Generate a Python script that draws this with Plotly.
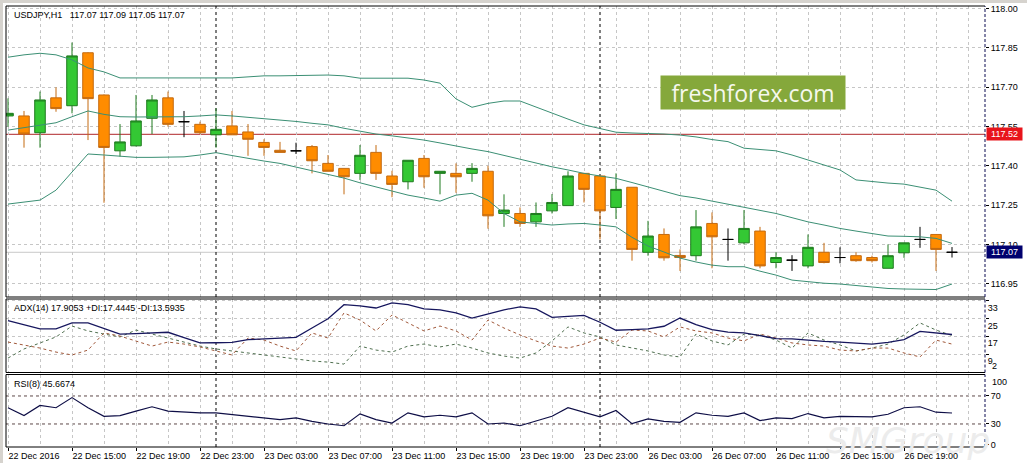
import pandas as pd
import plotly.graph_objects as go
from plotly.subplots import make_subplots

# hourly bars: 22 Dec 11:00 .. 23 Dec 23:00, weekend skipped, 26 Dec 00:00 .. 22:00
times = list(pd.date_range("2016-12-22 11:00", "2016-12-23 23:00", freq="h")) + \
    list(pd.date_range("2016-12-26 00:00", "2016-12-26 22:00", freq="h"))

opens = [117.590, 117.590, 117.526, 117.659, 117.629, 117.831, 117.670, 117.457, 117.476, 117.581,
         117.659, 117.568, 117.558, 117.518, 117.552, 117.529, 117.489, 117.459, 117.457, 117.473,
         117.409, 117.390, 117.371, 117.451, 117.361, 117.339, 117.428, 117.371, 117.371, 117.371,
         117.379, 117.218, 117.218, 117.186, 117.228, 117.248, 117.371, 117.361, 117.241, 117.318,
         117.070, 117.138, 117.058, 117.057, 117.180, 117.119, 117.106, 117.151, 117.031, 117.040,
         117.018, 117.070, 117.050, 117.057, 117.050, 117.009, 117.068, 117.119, 117.138, 117.07]
highs = [117.657, 117.609, 117.683, 117.699, 117.870, 117.833, 117.672, 117.559, 117.670, 117.670,
         117.683, 117.609, 117.568, 117.619, 117.609, 117.559, 117.501, 117.491, 117.488, 117.479,
         117.441, 117.390, 117.479, 117.479, 117.381, 117.421, 117.441, 117.379, 117.409, 117.410,
         117.400, 117.291, 117.241, 117.260, 117.292, 117.379, 117.371, 117.361, 117.371, 117.318,
         117.190, 117.161, 117.081, 117.231, 117.222, 117.161, 117.231, 117.167, 117.070, 117.059,
         117.138, 117.106, 117.089, 117.070, 117.057, 117.100, 117.106, 117.167, 117.138, 117.09]
lows = [117.549, 117.469, 117.469, 117.606, 117.600, 117.498, 117.259, 117.435, 117.474, 117.521,
        117.549, 117.509, 117.521, 117.469, 117.518, 117.438, 117.438, 117.451, 117.445, 117.371,
        117.379, 117.291, 117.346, 117.346, 117.280, 117.310, 117.316, 117.291, 117.297, 117.339,
        117.160, 117.167, 117.167, 117.167, 117.218, 117.248, 117.260, 117.119, 117.197, 117.038,
        117.057, 117.038, 116.999, 117.038, 117.009, 117.038, 117.100, 117.009, 117.009, 116.999,
        117.009, 117.028, 117.028, 117.034, 117.031, 117.009, 117.049, 117.087, 116.999, 117.05]
closes = [117.600, 117.521, 117.651, 117.618, 117.819, 117.656, 117.470, 117.491, 117.571, 117.651,
          117.558, 117.568, 117.526, 117.539, 117.518, 117.501, 117.470, 117.451, 117.457, 117.419,
          117.379, 117.358, 117.440, 117.371, 117.329, 117.421, 117.358, 117.379, 117.358, 117.390,
          117.209, 117.231, 117.180, 117.218, 117.260, 117.361, 117.310, 117.228, 117.310, 117.081,
          117.132, 117.049, 117.050, 117.167, 117.129, 117.119, 117.161, 117.018, 117.050, 117.040,
          117.089, 117.031, 117.050, 117.038, 117.038, 117.057, 117.106, 117.119, 117.081, 117.07]

bb_upper = [117.814, 117.823, 117.829, 117.823, 117.804, 117.773, 117.758, 117.735, 117.735, 117.735,
            117.735, 117.735, 117.735, 117.735, 117.735, 117.739, 117.743, 117.743, 117.744, 117.746,
            117.746, 117.743, 117.734, 117.734, 117.734, 117.734, 117.727, 117.715, 117.655, 117.623,
            117.638, 117.647, 117.647, 117.623, 117.601, 117.578, 117.556, 117.543, 117.528, 117.525,
            117.524, 117.521, 117.517, 117.510, 117.500, 117.492, 117.467, 117.462, 117.457, 117.441,
            117.422, 117.403, 117.384, 117.346, 117.339, 117.334, 117.330, 117.319, 117.307, 117.265]
bb_mid = [117.536, 117.546, 117.556, 117.564, 117.587, 117.609, 117.596, 117.587, 117.586, 117.586,
          117.586, 117.587, 117.590, 117.594, 117.590, 117.585, 117.580, 117.575, 117.569, 117.562,
          117.556, 117.543, 117.533, 117.521, 117.514, 117.506, 117.498, 117.487, 117.475, 117.464,
          117.454, 117.439, 117.424, 117.409, 117.396, 117.384, 117.371, 117.361, 117.352, 117.336,
          117.320, 117.304, 117.286, 117.277, 117.265, 117.254, 117.241, 117.230, 117.218, 117.202,
          117.186, 117.174, 117.161, 117.151, 117.141, 117.132, 117.131, 117.129, 117.123, 117.104]
bb_lower = [117.254, 117.262, 117.269, 117.307, 117.376, 117.445, 117.441, 117.437, 117.432, 117.432,
            117.433, 117.434, 117.441, 117.450, 117.439, 117.428, 117.418, 117.409, 117.395, 117.381,
            117.368, 117.353, 117.335, 117.319, 117.304, 117.288, 117.277, 117.265, 117.288, 117.295,
            117.269, 117.218, 117.186, 117.180, 117.174, 117.178, 117.180, 117.174, 117.167, 117.127,
            117.094, 117.071, 117.048, 117.033, 117.021, 117.015, 117.015, 116.998, 116.983, 116.964,
            116.958, 116.952, 116.949, 116.943, 116.937, 116.932, 116.930, 116.928, 116.928, 116.949]

adx = [24.1, 22.3, 20.4, 20.4, 23.1, 23.1, 20.7, 18.1, 18.3, 18.6,
       18.9, 16.5, 14.1, 14.2, 14.4, 15.6, 15.9, 16.2, 16.6, 20.8,
       25.0, 31.3, 30.8, 29.8, 32.1, 31.3, 29.4, 29.0, 27.6, 25.3,
       27.1, 29.0, 30.3, 29.4, 25.6, 26.1, 26.5, 23.4, 19.8, 20.1,
       20.4, 21.6, 25.3, 22.3, 20.1, 19.0, 18.6, 17.4, 16.0, 15.9,
       15.3, 14.8, 14.5, 14.1, 13.6, 14.4, 15.6, 19.3, 18.6, 17.9053]
plus_di = [7.3, 11.4, 14.1, 16.8, 21.7, 19.5, 18.1, 16.8, 19.9, 18.1,
           16.3, 14.5, 12.7, 11.4, 10.5, 9.6, 8.7, 7.8, 6.9, 6.0,
           5.5, 4.6, 12.7, 10.9, 10.0, 12.7, 13.6, 12.3, 13.6, 11.8,
           9.6, 8.2, 7.3, 9.6, 15.0, 21.3, 18.6, 16.8, 13.2, 11.8,
           10.5, 8.7, 7.8, 18.1, 15.0, 13.2, 18.1, 17.7, 15.4, 11.8,
           18.6, 15.4, 13.2, 10.5, 11.8, 13.6, 17.7, 23.1, 19.9, 17.4445]
minus_di = [14.5, 13.2, 11.8, 10.0, 8.7, 10.9, 18.6, 17.2, 15.0, 12.7,
            14.5, 13.6, 12.3, 10.5, 8.7, 16.3, 15.4, 12.7, 10.5, 18.6,
            16.3, 27.6, 24.4, 19.5, 26.7, 23.1, 19.5, 21.7, 19.5, 15.4,
            24.4, 20.8, 17.7, 15.0, 12.7, 11.8, 13.6, 16.3, 14.5, 19.9,
            19.5, 16.8, 21.3, 19.5, 18.6, 16.3, 15.0, 18.1, 16.3, 14.1,
            13.2, 12.7, 10.9, 10.5, 11.8, 11.8, 9.6, 7.8, 15.4, 13.5935]
rsi = [53.2, 42.0, 56.5, 53.2, 67.7, 53.2, 41.0, 42.0, 48.3, 54.6,
       48.3, 47.1, 45.9, 45.9, 43.5, 41.0, 39.6, 36.2, 38.7, 33.8,
       30.0, 27.5, 44.5, 36.2, 31.4, 45.9, 40.1, 42.5, 40.1, 45.9,
       30.0, 31.4, 27.5, 33.8, 41.0, 53.2, 46.8, 40.1, 49.3, 30.4,
       37.2, 33.8, 32.3, 45.9, 42.5, 41.0, 45.9, 34.8, 38.7, 37.7,
       44.9, 38.7, 41.0, 40.1, 40.1, 43.9, 53.2, 54.6, 46.8, 45.6674]

price_ticks = [118.00, 117.85, 117.70, 117.55, 117.40, 117.25, 117.10, 116.95]
adx_ticks = [33, 25, 17, 9]
rsi_levels = [70, 30]
rsi_ticks = [70, 30, 0]
level_line = 117.52
bid = 117.07

# ---- page geometry (MT4 window 1027x463)
W, H = 1027, 463
ML, MR, MT, MB = 6, 42, 6, 16


def px_x(px):
    return (px - ML) / (W - ML - MR)


def px_y(py):
    return (H - MB - py) / (H - MT - MB)


FONT = "Liberation Sans"
GRID = "#c6c6c6"
BB = "#3b8f74"

idx = list(range(len(times)))
doji = [o == c for o, c in zip(opens, closes)]


def pick(vals, keep):
    return [v if k else None for v, k in zip(vals, keep)]


not_doji = [not d for d in doji]

fig = make_subplots(rows=3, cols=1, shared_xaxes=True, vertical_spacing=0.0)

for band in (bb_upper, bb_mid, bb_lower):
    fig.add_trace(go.Scatter(x=idx, y=band, mode="lines", line=dict(color=BB, width=1),
                             hoverinfo="skip"), row=1, col=1)

fig.add_trace(go.Candlestick(
    x=idx, open=pick(opens, not_doji), high=pick(highs, not_doji),
    low=pick(lows, not_doji), close=pick(closes, not_doji),
    increasing=dict(fillcolor="#34c834", line=dict(color="#1e7a1e", width=1)),
    decreasing=dict(fillcolor="#ff8c00", line=dict(color="#c46a10", width=1)),
    whiskerwidth=0), row=1, col=1)
fig.add_trace(go.Candlestick(
    x=idx, open=pick(opens, doji), high=pick(highs, doji),
    low=pick(lows, doji), close=pick(closes, doji),
    increasing=dict(fillcolor="#000000", line=dict(color="#000000", width=1)),
    decreasing=dict(fillcolor="#000000", line=dict(color="#000000", width=1)),
    whiskerwidth=0), row=1, col=1)

fig.add_trace(go.Scatter(x=idx, y=plus_di, mode="lines",
                         line=dict(color="#4f6f4f", width=1, dash="3px,3px")), row=2, col=1)
fig.add_trace(go.Scatter(x=idx, y=minus_di, mode="lines",
                         line=dict(color="#a0583a", width=1, dash="3px,3px")), row=2, col=1)
fig.add_trace(go.Scatter(x=idx, y=adx, mode="lines",
                         line=dict(color="#17175e", width=1.3)), row=2, col=1)
fig.add_trace(go.Scatter(x=idx, y=rsi, mode="lines",
                         line=dict(color="#0e0e46", width=1.2)), row=3, col=1)

# ---- x axes: label every 4 bars, grid every 2 bars
major = list(range(0, len(times), 4))
minor = [v for v in range(0, len(times) + 1, 2) if v not in major]
labels = []
for k in major:
    t = times[k]
    labels.append(t.strftime("%d %b %Y") if k == 0 else t.strftime("%d %b %H:%M"))

x_range = [(ML - 8) / 16, (W - MR - 8) / 16]
fig.update_xaxes(range=x_range, tickmode="array", tickvals=major, ticktext=labels,
                 showgrid=True, gridcolor=GRID, griddash="3px,3px", gridwidth=1,
                 zeroline=False, showline=False, rangeslider_visible=False, automargin=False,
                 minor=dict(tickmode="array", tickvals=minor, showgrid=True,
                            gridcolor=GRID, griddash="3px,3px", gridwidth=1))
fig.update_xaxes(showticklabels=False, row=1, col=1)
fig.update_xaxes(showticklabels=False, row=2, col=1)
fig.update_xaxes(ticks="outside", ticklen=3, tickcolor="#000", ticklabelposition="outside right",
                 ticklabelstandoff=0,
                 tickfont=dict(family=FONT, size=9, color="#000"), row=3, col=1)

# ---- y axes
main_range = [level_line - (297 - 134.3) / 262.2, level_line + (134.3 - MT) / 262.2]
fig.update_yaxes(side="right", zeroline=False, showline=False, ticks="outside", ticklen=3,
                 tickcolor="#000", tickfont=dict(family=FONT, size=9, color="#000"),
                 gridcolor=GRID, griddash="3px,3px", gridwidth=1, automargin=False)
fig.update_yaxes(range=main_range, tickvals=price_ticks, tickformat=".2f", row=1, col=1)
fig.update_yaxes(range=[0.82, 33.85], tickvals=adx_ticks, ticklabelposition="outside bottom",
                 row=2, col=1)
fig.update_yaxes(range=[-2.9, 100.7], tickvals=rsi_ticks, showgrid=False, row=3, col=1)

fig.update_layout(
    yaxis=dict(domain=[px_y(297), px_y(MT)]),
    yaxis2=dict(domain=[px_y(372.5), px_y(299)]),
    yaxis3=dict(domain=[0, px_y(374.5)]),
)

shapes = []
# panel frames: solid top/bottom/left, dashed right edge
for ya in ("y", "y2", "y3"):
    ref = ya + " domain"
    for (x0, y0, x1, y1) in ((0, 1, 1, 1), (0, 0, 1, 0), (0, 0, 0, 1)):
        shapes.append(dict(type="line", xref="paper", yref=ref, x0=x0, x1=x1, y0=y0, y1=y1,
                           line=dict(color="#000000", width=1), layer="above"))
    shapes.append(dict(type="line", xref="paper", yref=ref, x0=1, x1=1, y0=0, y1=1,
                       line=dict(color="#0a0a50", width=1, dash="3px,2px"), layer="above"))

# price lines
shapes.append(dict(type="line", xref="paper", yref="y", x0=0, x1=1, y0=bid, y1=bid,
                   line=dict(color="#c8c8c8", width=1), layer="between"))
shapes.append(dict(type="line", xref="paper", yref="y", x0=0, x1=1, y0=level_line, y1=level_line,
                   line=dict(color="#b0262a", width=1), layer="between"))

# RSI levels
for lv in rsi_levels:
    shapes.append(dict(type="line", xref="paper", yref="y3", x0=0, x1=1, y0=lv, y1=lv,
                       line=dict(color="#5e4848", width=1, dash="3px,3px"), layer="between"))

# day separators
for k in range(1, len(times)):
    if times[k].date() != times[k - 1].date():
        shapes.append(dict(type="line", xref="x", yref="paper", x0=k, x1=k, y0=0, y1=1,
                           line=dict(color="#000000", width=1, dash="3px,3px"), layer="between"))

# window chrome
shapes.append(dict(type="rect", xref="paper", yref="paper", x0=px_x(0), x1=px_x(W),
                   y0=px_y(0), y1=px_y(3), fillcolor="#d6d3ce", line=dict(width=0), layer="above"))
shapes.append(dict(type="rect", xref="paper", yref="paper", x0=px_x(0), x1=px_x(3),
                   y0=px_y(H), y1=px_y(0), fillcolor="#d6d3ce", line=dict(width=0), layer="above"))

txt = dict(family=FONT, size=9, color="#000")
ann = [
    # watermarks (first, so the scale labels sit on top)
    dict(xref="paper", yref="paper", x=px_x(908), y=px_y(440), xanchor="center", yanchor="middle",
         text="<i>SMGroup</i>", showarrow=False,
         font=dict(family="DejaVu Sans", size=36, color="#ececec")),
    dict(xref="paper", yref="paper", x=px_x(752.5), y=px_y(92.7), xanchor="center", yanchor="middle",
         text="freshforex.com", showarrow=False, bgcolor="#85a83b", width=182, height=31, borderpad=1,
         font=dict(family="Open Sans", size=23, color="#f6f8ee")),
    dict(xref="paper", yref="paper", x=px_x(12), y=px_y(15.5), xanchor="left", yanchor="middle",
         text="USDJPY,H1&nbsp;&nbsp;&nbsp;%.2f %.2f %.2f %.2f" % (opens[-1], highs[-1], lows[-1], closes[-1]),
         showarrow=False, font=txt),
    dict(xref="paper", yref="paper", x=px_x(12), y=px_y(308), xanchor="left", yanchor="middle",
         text="ADX(14) %.4f +DI:%.4f -DI:%.4f" % (adx[-1], plus_di[-1], minus_di[-1]),
         showarrow=False, font=txt),
    dict(xref="paper", yref="paper", x=px_x(12), y=px_y(384), xanchor="left", yanchor="middle",
         text="RSI(8) %.4f" % rsi[-1], showarrow=False, font=txt),
    # extra scale labels MT4 pins to the sub-window edges
    dict(xref="paper", yref="paper", x=1, xshift=5, y=px_y(365.5), xanchor="left", yanchor="middle",
         text="2", showarrow=False, font=txt),
    dict(xref="paper", yref="paper", x=1, xshift=5, y=px_y(382), xanchor="left", yanchor="middle",
         text="100", showarrow=False, font=txt),
    # price tags on the axis
    dict(xref="paper", yref="y", x=1, xshift=1, y=level_line, xanchor="left", yanchor="middle",
         text="%.2f" % level_line, showarrow=False, bgcolor="#e8141b", borderpad=1, width=33,
         font=dict(family=FONT, size=9, color="#ffffff")),
    dict(xref="paper", yref="y", x=1, xshift=1, y=bid, xanchor="left", yanchor="middle",
         text="%.2f" % bid, showarrow=False, bgcolor="#00006e", borderpad=1, width=33,
         font=dict(family=FONT, size=9, color="#ffffff")),
]

fig.update_layout(
    width=W, height=H, margin=dict(l=ML, r=MR, t=MT, b=MB, autoexpand=False),
    paper_bgcolor="#ffffff", plot_bgcolor="#ffffff",
    showlegend=False, boxgap=0.34, boxgroupgap=0,
    shapes=shapes, annotations=ann,
    font=dict(family=FONT, size=9, color="#000"),
)

fig.write_html("out.html", config={"displayModeBar": False},
               post_script="document.body.style.margin='0';")
